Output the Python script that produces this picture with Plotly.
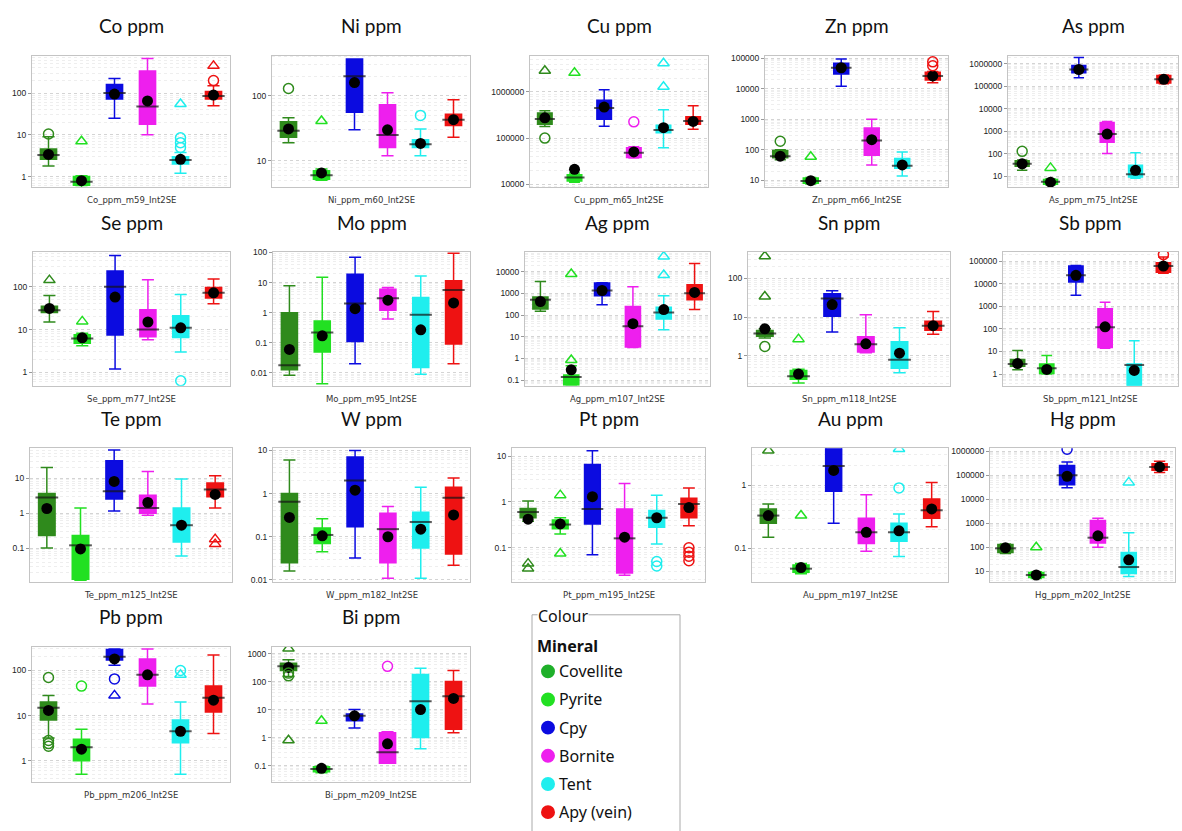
import math
import plotly.graph_objects as go

W_PX, H_PX = 1182, 831

MINERALS = ["Covellite", "Pyrite", "Cpy", "Bornite", "Tent", "Apy (vein)"]
COLORS = ["#2f8a1c", "#22e022", "#0b0be0", "#ee1fee", "#1feeee", "#ee1212"]
LEGEND_DOT = ["#1fb02a", "#22e022", "#0b0be0", "#ee1fee", "#1feeee", "#ee1212"]

# per mineral: [lower whisker, Q1, median, Q3, upper whisker, mean]
CO = [[1.8, 2.6, 3.3, 4.6, 9.0, 3.4], [0.55, 0.62, 0.75, 1.0, 1.05, 0.8],
      [25, 72, 100, 160, 225, 95], [10, 18, 48, 340, 680, 65],
      [1.2, 2.0, 2.5, 3.0, 3.8, 2.6], [50, 72, 85, 110, 150, 90]]
NI = [[19, 23, 29, 40, 46, 31], [5.0, 5.2, 6.0, 7.0, 7.5, 6.5],
      [30, 56, 200, 370, 370, 160], [12, 16, 25, 73, 112, 30],
      [12, 16, 18, 21, 31, 18.5], [23, 35, 43, 52, 87, 43]]
CU = [[178e3, 200e3, 260e3, 350e3, 390e3, 275e3], [11e3, 11.8e3, 14e3, 16e3, 17.5e3, 21e3],
      [180e3, 255e3, 450e3, 660e3, 1.12e6, 470e3], [37e3, 38e3, 48e3, 62e3, 65e3, 50e3],
      [62e3, 130e3, 150e3, 190e3, 410e3, 168e3], [155e3, 200e3, 235e3, 290e3, 500e3, 230e3]]
ZN = [[47, 55, 62, 95, 101, 62], [7.6, 8, 9.5, 12, 12.5, 9.8],
      [12e3, 30e3, 48e3, 67e3, 93e3, 48e3], [32, 66, 200, 520, 1000, 215],
      [14, 25, 30, 52, 85, 32], [15.6e3, 19e3, 26e3, 34e3, 36e3, 26e3]]
AS = [[18, 27, 35, 48, 52, 35], [4.0, 4.3, 5.5, 7, 7.5, 5.3],
      [240e3, 400e3, 560e3, 850e3, 1.9e6, 560e3], [100, 320, 740, 2400, 2700, 740],
      [8, 9, 12, 30, 110, 18], [130e3, 140e3, 205e3, 300e3, 320e3, 205e3]]
SE = [[15, 25, 28, 35, 62, 31], [4.2, 4.8, 6.2, 7.6, 8.2, 6.4],
      [1.2, 7.5, 100, 230, 530, 57], [5.8, 6.8, 10, 29, 145, 15],
      [3.0, 6.5, 11, 21, 66, 11], [40, 54, 72, 96, 150, 72]]
MO = [[0.0083, 0.0126, 0.0178, 1.0, 7.9, 0.06], [0.0043, 0.049, 0.22, 0.53, 15, 0.17],
      [0.02, 0.11, 2.0, 19, 70, 1.35], [0.62, 1.2, 3.0, 6.0, 6.8, 2.6],
      [0.009, 0.015, 0.86, 3.2, 16.5, 0.27], [0.02, 0.09, 5.7, 11.6, 95, 2.1]]
AG = [[150, 190, 500, 670, 3500, 420], [0.055, 0.06, 0.14, 0.17, 0.46, 0.3],
      [300, 770, 1350, 3000, 3100, 1350], [3.2, 3.4, 30, 250, 2000, 40],
      [21, 66, 130, 230, 770, 178], [178, 505, 1000, 2460, 24000, 1100]]
SN = [[2.9, 3.2, 3.8, 4.5, 5.0, 5.0], [0.2, 0.25, 0.3, 0.42, 0.45, 0.34],
      [4.1, 10.5, 30, 40, 48, 21], [1.2, 1.25, 2.0, 3.1, 11.5, 2.05],
      [0.37, 0.48, 0.8, 2.3, 5.3, 1.17], [3.6, 4.6, 6.0, 7.8, 14, 6.0]]
SB = [[1.55, 2.2, 2.8, 4.4, 11, 2.9], [1.0, 1.05, 1.8, 2.8, 6.6, 1.6],
      [3100, 12e3, 24e3, 62e3, 65e3, 24e3], [14, 15, 120, 780, 1550, 125],
      [0.3, 0.3, 2.5, 2.8, 30, 1.45], [30e3, 33e3, 62e3, 87e3, 155e3, 62e3]]
TE = [[0.1, 0.23, 2.8, 3.6, 20, 1.35], [0.012, 0.013, 0.12, 0.23, 1.4, 0.095],
      [1.15, 2.5, 4.2, 31, 63, 8], [0.86, 0.98, 1.4, 3.2, 15.4, 2.0],
      [0.06, 0.15, 0.45, 1.4, 9.4, 0.45], [1.4, 2.9, 4.7, 7.2, 11.6, 3.4]]
WW = [[0.016, 0.025, 0.65, 1.0, 6.0, 0.28], [0.045, 0.07, 0.11, 0.16, 0.26, 0.105],
      [0.032, 0.17, 2.0, 7.0, 10, 1.2], [0.011, 0.025, 0.15, 0.35, 0.5, 0.1],
      [0.011, 0.055, 0.22, 0.37, 1.4, 0.15], [0.022, 0.04, 0.8, 1.4, 2.3, 0.32]]
PT = [[0.38, 0.45, 0.6, 0.72, 1.05, 0.42], [0.2, 0.26, 0.32, 0.4, 0.45, 0.33],
      [0.07, 0.33, 0.7, 6.5, 13, 1.3], [0.025, 0.028, 0.16, 0.7, 2.5, 0.17],
      [0.12, 0.28, 0.45, 0.65, 1.4, 0.45], [0.3, 0.45, 0.9, 1.2, 2.0, 0.75]]
AU = [[0.15, 0.25, 0.33, 0.42, 0.5, 0.33], [0.04, 0.042, 0.048, 0.055, 0.058, 0.05],
      [0.25, 0.8, 2.0, 4.0, 4.5, 1.7], [0.09, 0.12, 0.18, 0.3, 0.7, 0.18],
      [0.075, 0.13, 0.18, 0.25, 0.35, 0.19], [0.22, 0.3, 0.4, 0.6, 1.1, 0.42]]
HG = [[55, 60, 90, 130, 135, 95], [5, 5.5, 7, 9, 9.5, 7],
      [30e3, 40e3, 100e3, 250e3, 350e3, 90e3], [100, 150, 250, 1300, 1600, 300],
      [6, 8, 15, 60, 400, 30], [130e3, 160e3, 220e3, 300e3, 380e3, 220e3]]
PB = [[3.2, 8, 15, 20, 28, 13], [0.5, 1.0, 2.0, 3.0, 5.0, 1.8],
      [130, 170, 200, 290, 300, 180], [18, 45, 80, 180, 300, 80],
      [0.5, 2.5, 4.5, 8, 20, 4.5], [4, 12, 25, 45, 220, 22]]
BI = [[150, 250, 350, 450, 600, 320], [0.055, 0.06, 0.075, 0.09, 0.095, 0.08],
      [2.2, 4, 6, 7, 10, 6], [0.12, 0.12, 0.3, 1.5, 1.6, 0.6],
      [0.4, 1.0, 20, 180, 300, 10], [1.5, 2, 30, 100, 250, 25]]

# outliers: (mineral index, value, kind) kind "o" = outlier, "x" = far outlier
CO_OUT = [(0, 10.5, "o"), (1, 7, "x"), (4, 55, "x"), (4, 8.5, "o"), (4, 6.5, "o"), (4, 5, "o"),
          (5, 200, "o"), (5, 450, "x")]
NI_OUT = [(0, 130, "o"), (1, 41, "x"), (4, 50, "o")]
CU_OUT = [(0, 2.9e6, "x"), (0, 100e3, "o"), (1, 2.6e6, "x"), (3, 225e3, "o"), (4, 4.2e6, "x"), (4, 1.3e6, "x")]
ZN_OUT = [(0, 190, "o"), (1, 59, "x"), (5, 56e3, "o"), (5, 75e3, "o")]
AS_OUT = [(0, 126, "o"), (1, 23, "x")]
SE_OUT = [(0, 142, "x"), (1, 15.5, "x"), (4, 0.64, "o")]
MO_OUT = []
AG_OUT = [(1, 7800, "x"), (1, 0.85, "x"), (4, 50000, "x"), (4, 7000, "x")]
SN_OUT = [(0, 370, "x"), (0, 34, "x"), (0, 1.74, "o"), (1, 2.7, "x")]
SB_OUT = [(5, 200e3, "o")]
TE_OUT = [(5, 0.18, "x"), (5, 0.13, "x")]
WW_OUT = []
PT_OUT = [(0, 0.045, "x"), (0, 0.035, "x"), (1, 1.4, "x"), (1, 0.075, "x"), (4, 0.05, "o"), (4, 0.04, "o"),
          (5, 0.1, "o"), (5, 0.08, "o"), (5, 0.065, "o"), (5, 0.052, "o")]
AU_OUT = [(0, 3.5, "x"), (1, 0.33, "x"), (4, 0.9, "o"), (4, 3.7, "x")]
HG_OUT = [(1, 100, "x"), (2, 1.2e6, "o"), (4, 50e3, "x")]
PB_OUT = [(0, 70, "o"), (0, 2.8, "o"), (0, 2.4, "o"), (0, 2.1, "o"), (1, 45, "o"), (2, 65, "o"), (2, 28, "x"),
          (4, 100, "o"), (4, 80, "x")]
BI_OUT = [(0, 1500, "x"), (0, 200, "o"), (0, 160, "o"), (0, 0.8, "x"), (1, 4, "x"), (3, 350, "o")]

PANELS = [
    ("Co ppm", "Co_ppm_m59_Int2SE", CO, CO_OUT),
    ("Ni ppm", "Ni_ppm_m60_Int2SE", NI, NI_OUT),
    ("Cu ppm", "Cu_ppm_m65_Int2SE", CU, CU_OUT),
    ("Zn ppm", "Zn_ppm_m66_Int2SE", ZN, ZN_OUT),
    ("As ppm", "As_ppm_m75_Int2SE", AS, AS_OUT),
    ("Se ppm", "Se_ppm_m77_Int2SE", SE, SE_OUT),
    ("Mo ppm", "Mo_ppm_m95_Int2SE", MO, MO_OUT),
    ("Ag ppm", "Ag_ppm_m107_Int2SE", AG, AG_OUT),
    ("Sn ppm", "Sn_ppm_m118_Int2SE", SN, SN_OUT),
    ("Sb ppm", "Sb_ppm_m121_Int2SE", SB, SB_OUT),
    ("Te ppm", "Te_ppm_m125_Int2SE", TE, TE_OUT),
    ("W ppm", "W_ppm_m182_Int2SE", WW, WW_OUT),
    ("Pt ppm", "Pt_ppm_m195_Int2SE", PT, PT_OUT),
    ("Au ppm", "Au_ppm_m197_Int2SE", AU, AU_OUT),
    ("Hg ppm", "Hg_ppm_m202_Int2SE", HG, HG_OUT),
    ("Pb ppm", "Pb_ppm_m206_Int2SE", PB, PB_OUT),
    ("Bi ppm", "Bi_ppm_m209_Int2SE", BI, BI_OUT),
]

# layout: panel frames in pixels (x0, x1, y0, y1) and log10 y ranges
FRAMES = [
    (32, 230, 52, 185), (272, 470, 52, 185), (530, 708, 52, 185), (765, 948, 52, 185), (1008, 1178, 52, 185),
    (33, 230, 250, 385), (273, 470, 250, 385), (525, 710, 250, 385), (748, 950, 250, 385), (1003, 1178, 250, 385),
    (30, 232, 448, 583), (273, 470, 448, 583), (512, 705, 448, 583), (752, 948, 448, 583), (990, 1175, 448, 583),
    (32, 230, 648, 785), (272, 470, 648, 785),
]
YRANGES = [
    (-0.26, 2.9), (0.59, 2.62), (3.93, 6.79), (0.77, 5.08), (0.49, 6.37),
    (-0.31, 2.81), (-2.43, 2.02), (-1.26, 4.91), (-0.77, 2.68), (-0.52, 5.42),
    (-1.97, 1.85), (-2.05, 1.05), (-1.75, 1.17), (-1.53, 0.58), (0.55, 6.12),
    (-0.48, 2.53), (-1.6, 3.25),
]


def fx(px):
    return px / W_PX


def fy(py):
    return 1 - py / H_PX


def fmt(v):
    if v >= 1:
        return str(int(round(v)))
    return ("%.6f" % v).rstrip("0")


fig = go.Figure()
layout = dict(
    width=W_PX, height=H_PX, margin=dict(l=0, r=0, t=0, b=0),
    paper_bgcolor="white", plot_bgcolor="white", showlegend=False,
    annotations=[], shapes=[],
)

for i, (title, xlab, stats, outs) in enumerate(PANELS):
    n = i + 1
    xa = "x" if n == 1 else "x%d" % n
    ya = "y" if n == 1 else "y%d" % n
    x0, x1, y0, y1 = FRAMES[i]
    lo, hi = YRANGES[i]
    box_px = (x1 - x0) / 6 * 0.7

    for m, name in enumerate(MINERALS):
        s = stats[m]
        fig.add_trace(go.Box(
            x=[name], lowerfence=[s[0]], q1=[s[1]], median=[s[2]], q3=[s[3]], upperfence=[s[4]],
            fillcolor=COLORS[m], line=dict(color=COLORS[m], width=1.5), whiskerwidth=0.75,
            boxpoints=False, xaxis=xa, yaxis=ya, hoverinfo="skip", opacity=1,
        ))
    # median lines
    fig.add_trace(go.Scatter(
        x=MINERALS, y=[s[2] for s in stats], mode="markers", xaxis=xa, yaxis=ya, hoverinfo="skip",
        marker=dict(symbol="line-ew", size=box_px / 1.45, line=dict(color="rgba(20,20,20,0.7)", width=2)),
    ))
    # means
    fig.add_trace(go.Scatter(
        x=MINERALS, y=[s[5] for s in stats], mode="markers", xaxis=xa, yaxis=ya, hoverinfo="skip",
        marker=dict(symbol="circle", size=11, color="black"),
    ))
    # outliers
    if outs:
        fig.add_trace(go.Scatter(
            x=[MINERALS[o[0]] for o in outs], y=[o[1] for o in outs], mode="markers",
            xaxis=xa, yaxis=ya, hoverinfo="skip",
            marker=dict(symbol=["circle-open" if o[2] == "o" else "triangle-up-open" for o in outs],
                        size=10, color=[COLORS[o[0]] for o in outs], line=dict(width=1.5)),
        ))

    majors = [10.0 ** k for k in range(math.ceil(lo - 1e-9), math.floor(hi + 1e-9) + 1)]
    minors = [10.0 ** k * j for k in range(math.floor(lo), math.ceil(hi) + 1) for j in range(2, 10)]
    layout["xaxis" if n == 1 else "xaxis%d" % n] = dict(
        domain=[fx(x0), fx(x1)], anchor=ya, type="category", categoryorder="array",
        categoryarray=MINERALS, range=[-0.5, 5.5], showticklabels=False, ticks="",
        showline=True, mirror=True, linecolor="#c4c4c4", linewidth=1, showgrid=False, zeroline=False,
    )
    layout["yaxis" if n == 1 else "yaxis%d" % n] = dict(
        domain=[fy(y1), fy(y0)], anchor=xa, type="log", range=[lo, hi],
        tickmode="array", tickvals=majors, ticktext=[fmt(v) for v in majors],
        tickfont=dict(family="Liberation Sans", size=8.5, color="#222"),
        ticks="outside", ticklen=3, tickcolor="#999",
        showline=True, mirror=True, linecolor="#c4c4c4", linewidth=1,
        showgrid=True, gridcolor="#d4d4d4", griddash="dot", gridwidth=1, zeroline=False,
        minor=dict(tickmode="array", tickvals=minors, showgrid=True, gridcolor="#eeeeee", ticks=""),
    )
    cx = (x0 + x1) / 2
    layout["annotations"].append(dict(
        text=title, x=fx(cx), y=fy(y0 - 30), xref="paper", yref="paper", showarrow=False,
        xanchor="center", yanchor="middle", font=dict(family="Lato", size=19, color="#111"),
    ))
    layout["annotations"].append(dict(
        text=xlab, x=fx(cx), y=fy(y1 + 13), xref="paper", yref="paper", showarrow=False,
        xanchor="center", yanchor="middle", font=dict(family="DejaVu Sans", size=8.5, color="#333"),
    ))

# legend panel (fieldset style)
layout["shapes"].append(dict(type="rect", xref="paper", yref="paper",
                             x0=fx(532), x1=fx(680), y0=fy(840), y1=fy(616),
                             line=dict(color="#aaaaaa", width=1), fillcolor="rgba(0,0,0,0)"))
layout["annotations"].append(dict(
    text="Colour", x=fx(537), y=fy(617), xref="paper", yref="paper", showarrow=False,
    xanchor="left", yanchor="middle", bgcolor="white", borderpad=0,
    font=dict(family="Noto Sans", size=16, color="#111"),
))
layout["annotations"].append(dict(
    text="<b>Mineral</b>", x=fx(535), y=fy(647), xref="paper", yref="paper", showarrow=False,
    xanchor="left", yanchor="middle", font=dict(family="Noto Sans", size=16, color="#111"),
))
for m, name in enumerate(MINERALS):
    cy = 673 + m * 28.4
    layout["shapes"].append(dict(type="circle", xref="paper", yref="paper",
                                 x0=fx(541), x1=fx(555), y0=fy(cy + 7), y1=fy(cy - 7),
                                 fillcolor=LEGEND_DOT[m], line=dict(width=0)))
    layout["annotations"].append(dict(
        text=name, x=fx(557), y=fy(cy), xref="paper", yref="paper", showarrow=False,
        xanchor="left", yanchor="middle", font=dict(family="Noto Sans", size=16, color="#111"),
    ))

fig.update_layout(**layout)
fig.write_html("out.html", config={"displayModeBar": False},
               post_script="document.body.style.margin='0px';")
